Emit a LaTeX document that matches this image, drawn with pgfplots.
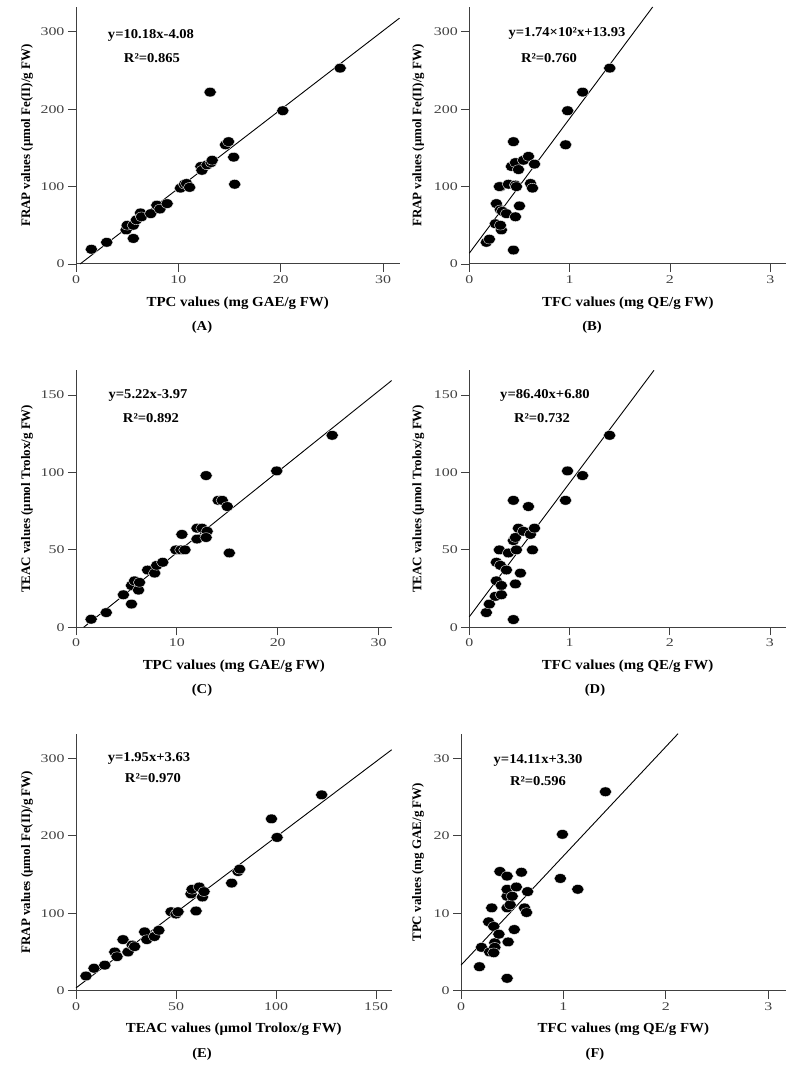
\documentclass[border=0pt]{standalone}
\usepackage{fontspec}
\setmainfont{Liberation Serif}[FakeStretch=1.08]
\newfontfamily\tickfont{Liberation Serif}[FakeStretch=1.35]
\newfontfamily\ylabfont{Liberation Serif}
\usepackage{pgfplots}
\pgfplotsset{compat=1.18}
\pgfplotsset{
  panel/.style={
    scale only axis, height=257pt,
    axis lines=left, axis line style={-, line width=1pt, black!75},
    xmin=0, ymin=0,
    tick align=outside, major tick length=8pt,
    tick style={line width=0.8pt, black!75},
    ticklabel style={font=\tickfont\fontsize{11.8}{12}\selectfont, text=black!75},
    /pgf/number format/assume math mode=true,
    xlabel style={font=\bfseries\fontsize{13.8}{16}\selectfont, at={([yshift=-39pt]axis description cs:0.5,0)}, anchor=center},
    clip=false,
  },
  yl/.style={ylabel style={font=\ylabfont\bfseries\fontsize{13}{15}\selectfont, at={([xshift=-#1]axis description cs:0,0.5)}, anchor=center}},
  dots/.style={only marks, mark=*, mark size=4.8pt, mark options={xscale=1.3, fill=black, draw=white, line width=0.35pt}},
  fit/.style={no marks, black, line width=0.9pt},
}
\begin{document}
\begin{tikzpicture}[x=1pt,y=1pt]
\path[use as bounding box] (0,0) rectangle (799,1070);
% (A)
\begin{axis}[panel, yl=49pt, at={(76pt,806pt)}, anchor=south west, width=323.5pt,
  xmax=31.6, ymax=332, xtick={0,10,20,30}, ytick={0,100,200,300},
  xlabel={TPC values (mg GAE/g FW)}, ylabel={FRAP values (μmol Fe(II)/g FW)}]
\addplot[dots] coordinates {(1.5,19) (3.0,28) (4.9,44) (5.0,50) (5.6,50) (5.6,33) (5.9,57) (6.3,66) (6.4,61) (7.3,65) (7.9,76) (8.2,71) (8.9,78) (10.2,98) (10.6,103) (10.8,104) (11.1,99) (12.2,126) (12.3,121) (12.8,128) (13.2,131) (13.3,134) (13.1,222) (14.6,154) (14.9,158) (15.4,138) (15.5,103) (20.2,198) (25.8,253)};
\addplot[fit] coordinates {(0.40,0) (31.6,317.6)};
\end{axis}
% (B)
\begin{axis}[panel, yl=51pt, at={(469.3pt,806pt)}, anchor=south west, width=317pt,
  xmax=3.16, ymax=332, xtick={0,1,2,3}, ytick={0,100,200,300},
  xlabel={TFC values (mg QE/g FW)}, ylabel={FRAP values (μmol Fe(II)/g FW)}]
\addplot[dots] coordinates {(0.17,28) (0.20,32) (0.27,78) (0.26,52) (0.31,100) (0.30,100) (0.31,70) (0.33,68) (0.32,44) (0.31,50) (0.37,65) (0.39,103) (0.44,158) (0.44,18) (0.42,126) (0.46,131) (0.46,102) (0.47,100) (0.46,61) (0.49,122) (0.50,75) (0.54,134) (0.59,139) (0.61,104) (0.63,98) (0.65,129) (0.96,154) (0.98,198) (1.13,222) (1.40,253)};
\addplot[fit] coordinates {(0,13.93) (1.828,332)};
\end{axis}
% (C)
\begin{axis}[panel, yl=49pt, at={(76pt,442.7pt)}, anchor=south west, width=315.7pt,
  xmax=31.3, ymax=166, xtick={0,10,20,30}, ytick={0,50,100,150},
  xlabel={TPC values (mg GAE/g FW)}, ylabel={TEAC values (μmol Trolox/g FW)}]
\addplot[dots] coordinates {(1.5,5.2) (3.0,9.5) (4.7,21) (5.5,15) (5.5,27) (5.8,30) (6.2,24) (6.3,29) (7.1,37) (7.8,35) (8.0,40) (8.6,42) (9.9,50) (10.4,50) (10.5,60) (10.8,50) (12.0,57) (12.0,64) (12.5,64) (13.0,62) (12.9,58) (12.9,98) (14.1,82) (14.5,82) (15.0,78) (15.2,48) (19.9,101) (25.4,124)};
\addplot[fit] coordinates {(0.76,0) (31.3,159.4)};
\end{axis}
% (D)
\begin{axis}[panel, yl=51pt, at={(469.3pt,442.7pt)}, anchor=south west, width=316.7pt,
  xmax=3.16, ymax=166, xtick={0,1,2,3}, ytick={0,50,100,150},
  xlabel={TFC values (mg QE/g FW)}, ylabel={TEAC values (μmol Trolox/g FW)}]
\addplot[dots] coordinates {(0.17,9.5) (0.20,15) (0.26,20) (0.27,30) (0.27,42) (0.30,50) (0.31,40) (0.32,27) (0.32,21) (0.37,37) (0.39,48) (0.44,82) (0.44,5) (0.46,28) (0.44,56) (0.46,58) (0.47,50) (0.49,64) (0.51,35) (0.54,62) (0.59,78) (0.61,60) (0.63,50) (0.65,64) (0.96,82) (0.98,101) (1.13,98) (1.40,124)};
\addplot[fit] coordinates {(0,6.8) (1.843,166)};
\end{axis}
% (E)
\begin{axis}[panel, yl=49pt, at={(76pt,79.3pt)}, anchor=south west, width=315.7pt,
  xmax=157.8, ymax=332, xtick={0,50,100,150}, ytick={0,100,200,300},
  xlabel={TEAC values (μmol Trolox/g FW)}, ylabel={FRAP values (μmol Fe(II)/g FW)}]
\addplot[dots] coordinates {(5,19) (9,29) (14.4,33) (19.4,50) (20.5,44) (23.5,66) (26,50) (28.1,59) (29.3,57) (34.3,76) (35.4,66) (39.2,70) (41.4,78) (47.5,102) (50,99) (51,102) (57.5,125) (58,131) (60,103) (61.6,134) (63.2,121) (64,128) (77.8,139) (81,154) (81.8,157) (97.7,222) (100.5,198) (122.8,253)};
\addplot[fit] coordinates {(0,3.63) (157.8,311.3)};
\end{axis}
% (F)
\begin{axis}[panel, yl=43pt, at={(461pt,79.3pt)}, anchor=south west, width=324.7pt,
  xmax=3.17, ymax=33.2, xtick={0,1,2,3}, ytick={0,10,20,30},
  xlabel={TFC values (mg QE/g FW)}, ylabel={TPC values (mg GAE/g FW)}]
\addplot[dots] coordinates {(0.18,3.1) (0.20,5.6) (0.28,5.0) (0.27,8.9) (0.30,10.7) (0.32,8.3) (0.33,6.2) (0.33,5.6) (0.32,4.9) (0.37,7.3) (0.38,15.4) (0.45,14.8) (0.45,12.2) (0.45,13.1) (0.46,6.3) (0.45,1.6) (0.45,10.7) (0.48,11.1) (0.50,12.2) (0.52,7.9) (0.54,13.4) (0.59,15.3) (0.62,10.7) (0.64,10.1) (0.65,12.8) (0.97,14.5) (0.99,20.2) (1.14,13.1) (1.41,25.7)};
\addplot[fit] coordinates {(0,3.3) (2.119,33.2)};
\end{axis}
% equations and panel letters
\begin{scope}[every node/.style={font=\bfseries\fontsize{13.5}{15}\selectfont}]
\node at (151,1035) {y=10.18x-4.08};
\node at (152,1012) {R²=0.865};
\node at (567,1037) {y=1.74×10²x+13.93};
\node at (549,1012) {R²=0.760};
\node at (148,675) {y=5.22x-3.97};
\node at (151,652) {R²=0.892};
\node at (545,675) {y=86.40x+6.80};
\node at (542,652) {R²=0.732};
\node at (149,312) {y=1.95x+3.63};
\node at (153,292) {R²=0.970};
\node at (538,310) {y=14.11x+3.30};
\node at (538,289) {R²=0.596};
\node at (202,743) {(A)};
\node at (592,743) {(B)};
\node at (202,380) {(C)};
\node at (595,380) {(D)};
\node at (202,16) {(E)};
\node at (595,16) {(F)};
\end{scope}
\end{tikzpicture}
\end{document}
